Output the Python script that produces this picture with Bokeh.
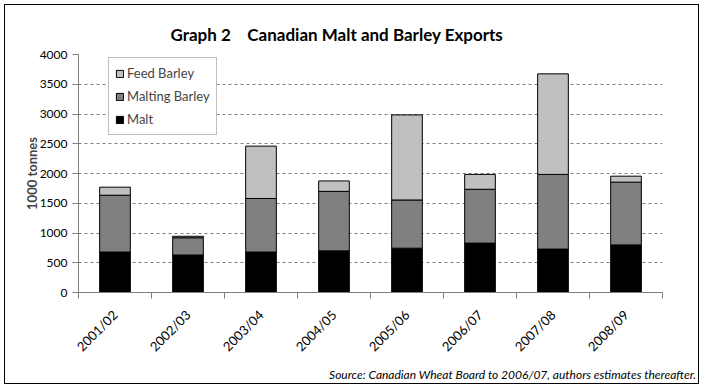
from math import pi
from bokeh.plotting import figure
from bokeh.models import (ColumnDataSource, FixedTicker, Legend, LegendItem,
                          Range1d, Title)
from bokeh.embed import file_html
from bokeh.resources import INLINE

years = ["2001/02", "2002/03", "2003/04", "2004/05", "2005/06", "2006/07", "2007/08", "2008/09"]
malt = [680, 630, 680, 700, 745, 830, 730, 800]
malting_barley = [955, 290, 900, 1000, 810, 905, 1255, 1055]
feed_barley = [135, 25, 880, 175, 1430, 250, 1690, 100]
y_ticks = [0, 500, 1000, 1500, 2000, 2500, 3000, 3500, 4000]
y_tick_labels = ["0", "500", "1000", "1500", "2000", "2500", "3000", "3500", "4000"]

series = ["malt", "malting", "feed"]
labels = ["Malt", "Malting Barley", "Feed Barley"]
colors = ["#000000", "#808080", "#C0C0C0"]

xpos = [i + 0.5 for i in range(len(years))]
source = ColumnDataSource(dict(x=xpos, malt=malt, malting=malting_barley, feed=feed_barley))

FONT = "Lato"

p = figure(width=695, height=380, output_backend="svg", toolbar_location=None,
           x_range=Range1d(0, len(years)), y_range=Range1d(0, 4000),
           min_border_left=73, min_border_right=38, min_border_top=49, min_border_bottom=93)
p.styles = {"border": "1px solid black", "margin": "4px 0 0 4px"}
p.outline_line_color = None
p.background_fill_color = "white"
p.border_fill_color = "white"

renderers = p.vbar_stack(series, x="x", width=0.42, source=source, color=colors,
                         line_color="black", line_width=1)

# grid
p.xgrid.visible = False
p.ygrid.grid_line_color = "#808080"
p.ygrid.grid_line_dash = "3 3"
p.ygrid.grid_line_width = 1

# y axis
p.yaxis.ticker = FixedTicker(ticks=y_ticks)
p.yaxis.major_label_overrides = {t: l for t, l in zip(y_ticks, y_tick_labels)}
p.yaxis.axis_line_color = "#808080"
p.yaxis.major_tick_line_color = "#808080"
p.yaxis.major_tick_out = 6
p.yaxis.major_tick_in = 0
p.yaxis.minor_tick_line_color = None
p.yaxis.major_label_text_font = FONT
p.yaxis.major_label_text_font_size = "12px"
p.yaxis.major_label_text_color = "black"
p.yaxis.major_label_standoff = 5
p.yaxis.axis_label = "1000 tonnes"
p.yaxis.axis_label_text_font = FONT
p.yaxis.axis_label_text_font_style = "bold"
p.yaxis.axis_label_text_font_size = "13px"
p.yaxis.axis_label_standoff = -3

# x axis
p.xaxis.ticker = FixedTicker(ticks=xpos, minor_ticks=list(range(len(years) + 1)))
p.xaxis.major_label_overrides = {x: y for x, y in zip(xpos, years)}
p.xaxis.axis_line_color = "#808080"
p.xaxis.major_tick_line_color = None
p.xaxis.minor_tick_line_color = "#808080"
p.xaxis.minor_tick_out = 6
p.xaxis.minor_tick_in = 0
p.xaxis.major_label_orientation = pi / 4
p.xaxis.major_label_text_font = FONT
p.xaxis.major_label_text_font_size = "13px"
p.xaxis.major_label_text_color = "black"
p.xaxis.major_label_standoff = 14

# legend
items = [LegendItem(label=labels[i], renderers=[renderers[i]]) for i in [2, 1, 0]]
legend = Legend(items=items, location=(30, 157), orientation="vertical")
legend.label_text_font = FONT
legend.label_text_font_size = "13px"
legend.glyph_width = 9
legend.glyph_height = 9
legend.label_standoff = 3
legend.label_height = 18
legend.spacing = 5
legend.padding = 6
legend.margin = 0
legend.border_line_color = "#808080"
legend.border_line_width = 1
legend.background_fill_color = "white"
p.add_layout(legend)

title = Title(text="Graph 2\u00a0\u00a0\u00a0\u00a0Canadian Malt and Barley Exports", align="left",
              offset=92, text_font=FONT, text_font_style="bold", text_font_size="17px",
              text_color="black", standoff=20)
p.add_layout(title, "above")

src = Title(text="Source: Canadian Wheat Board to 2006/07, authors estimates thereafter.",
            align="right", offset=-34, text_font=FONT, text_font_style="italic",
            text_font_size="12px", text_color="black", standoff=4)
p.add_layout(src, "below")

open("out.html", "w").write(file_html(p, INLINE))
